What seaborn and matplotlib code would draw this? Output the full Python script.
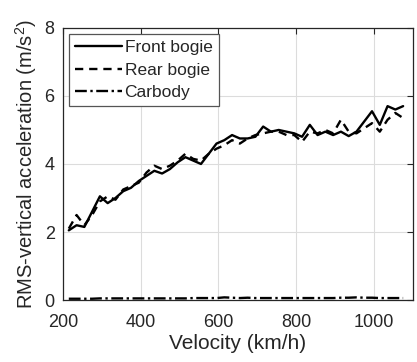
import numpy as np
import pandas as pd
import matplotlib
matplotlib.use("Agg")
import matplotlib.pyplot as plt
import seaborn as sns

# Velocity grid (km/h)
velocity = [215, 235, 255, 275, 295, 315, 335, 355, 375, 395,
            415, 435, 455, 475, 495, 515, 535, 555, 575, 595,
            615, 635, 655, 675, 695, 715, 735, 755, 775, 795,
            815, 835, 855, 875, 895, 915, 935, 955, 975, 995,
            1015, 1035, 1055, 1075]

# RMS vertical acceleration (m/s^2)
front_bogie = [2.05, 2.20, 2.15, 2.60, 3.05, 2.85, 3.00, 3.20, 3.30, 3.50,
               3.65, 3.80, 3.72, 3.85, 4.05, 4.20, 4.10, 4.00, 4.30, 4.60,
               4.70, 4.85, 4.75, 4.75, 4.80, 5.10, 4.95, 5.00, 4.95, 4.90,
               4.80, 5.15, 4.85, 4.95, 4.85, 4.95, 4.82, 4.95, 5.25, 5.55,
               5.15, 5.70, 5.60, 5.70]

rear_bogie = [2.10, 2.50, 2.20, 2.50, 2.90, 3.05, 2.95, 3.25, 3.35, 3.45,
              3.75, 3.95, 3.85, 3.95, 4.10, 4.30, 4.15, 4.10, 4.30, 4.45,
              4.55, 4.70, 4.60, 4.75, 4.85, 4.90, 4.95, 4.95, 4.85, 4.85,
              4.65, 4.95, 4.90, 5.00, 4.90, 5.30, 4.95, 4.90, 5.05, 5.20,
              4.95, 5.30, 5.50, 5.35]

carbody = [0.04, 0.04, 0.04, 0.04, 0.05, 0.05, 0.05, 0.05, 0.05, 0.05,
           0.05, 0.05, 0.05, 0.05, 0.05, 0.05, 0.06, 0.06, 0.06, 0.06,
           0.08, 0.07, 0.06, 0.07, 0.06, 0.06, 0.06, 0.06, 0.06, 0.06,
           0.06, 0.06, 0.06, 0.06, 0.06, 0.07, 0.07, 0.08, 0.07, 0.07,
           0.06, 0.06, 0.06, 0.06]

x_ticks = [200, 400, 600, 800, 1000]
y_ticks = [0, 2, 4, 6, 8]

df = pd.DataFrame({
    "Velocity": velocity,
    "Front bogie": front_bogie,
    "Rear bogie": rear_bogie,
    "Carbody": carbody,
})

sns.set_theme(style="white")
plt.rcParams["font.family"] = ["Liberation Sans", "DejaVu Sans"]
plt.rcParams["mathtext.fontset"] = "custom"
plt.rcParams["mathtext.rm"] = "Liberation Sans"
plt.rcParams["mathtext.it"] = "Liberation Sans:italic"

fig = plt.figure(figsize=(4.17, 3.62), dpi=100)
ax = fig.add_axes([0.151, 0.171, 0.839, 0.752])

styles = {
    "Front bogie": "-",
    "Rear bogie": (0, (3.5, 2.5)),
    "Carbody": (0, (5, 1.5, 1, 1.5)),
}
for name, ls in styles.items():
    sns.lineplot(data=df, x="Velocity", y=name, ax=ax, color="black",
                 linewidth=1.7, linestyle=ls, label=name)

ax.set_xlim(200, 1100)
ax.set_ylim(0, 8)
ax.set_xticks(x_ticks)
ax.set_yticks(y_ticks)
ax.grid(True, color="#dcdcdc", linewidth=0.8)
ax.tick_params(axis="both", direction="in", length=4, width=0.8, top=True,
               right=True, labelsize=13, colors="#262626")
ax.tick_params(axis="x", pad=10)
ax.tick_params(axis="y", pad=6)
for s in ax.spines.values():
    s.set_color("#262626")
    s.set_linewidth(0.9)

ax.set_xlabel("Velocity (km/h)", fontsize=15, color="#262626", labelpad=2)
ax.set_ylabel("RMS-vertical acceleration (m/s$^2$)", fontsize=14.5,
              color="#262626", labelpad=4)

leg = ax.legend(loc="upper left", fontsize=12.5, handlelength=2.7,
                handletextpad=0.15, labelspacing=0.42, borderpad=0.35,
                borderaxespad=0.35, fancybox=False, framealpha=1,
                edgecolor="#555555")
leg.get_frame().set_linewidth(0.9)

fig.savefig("out.png", dpi=100)
